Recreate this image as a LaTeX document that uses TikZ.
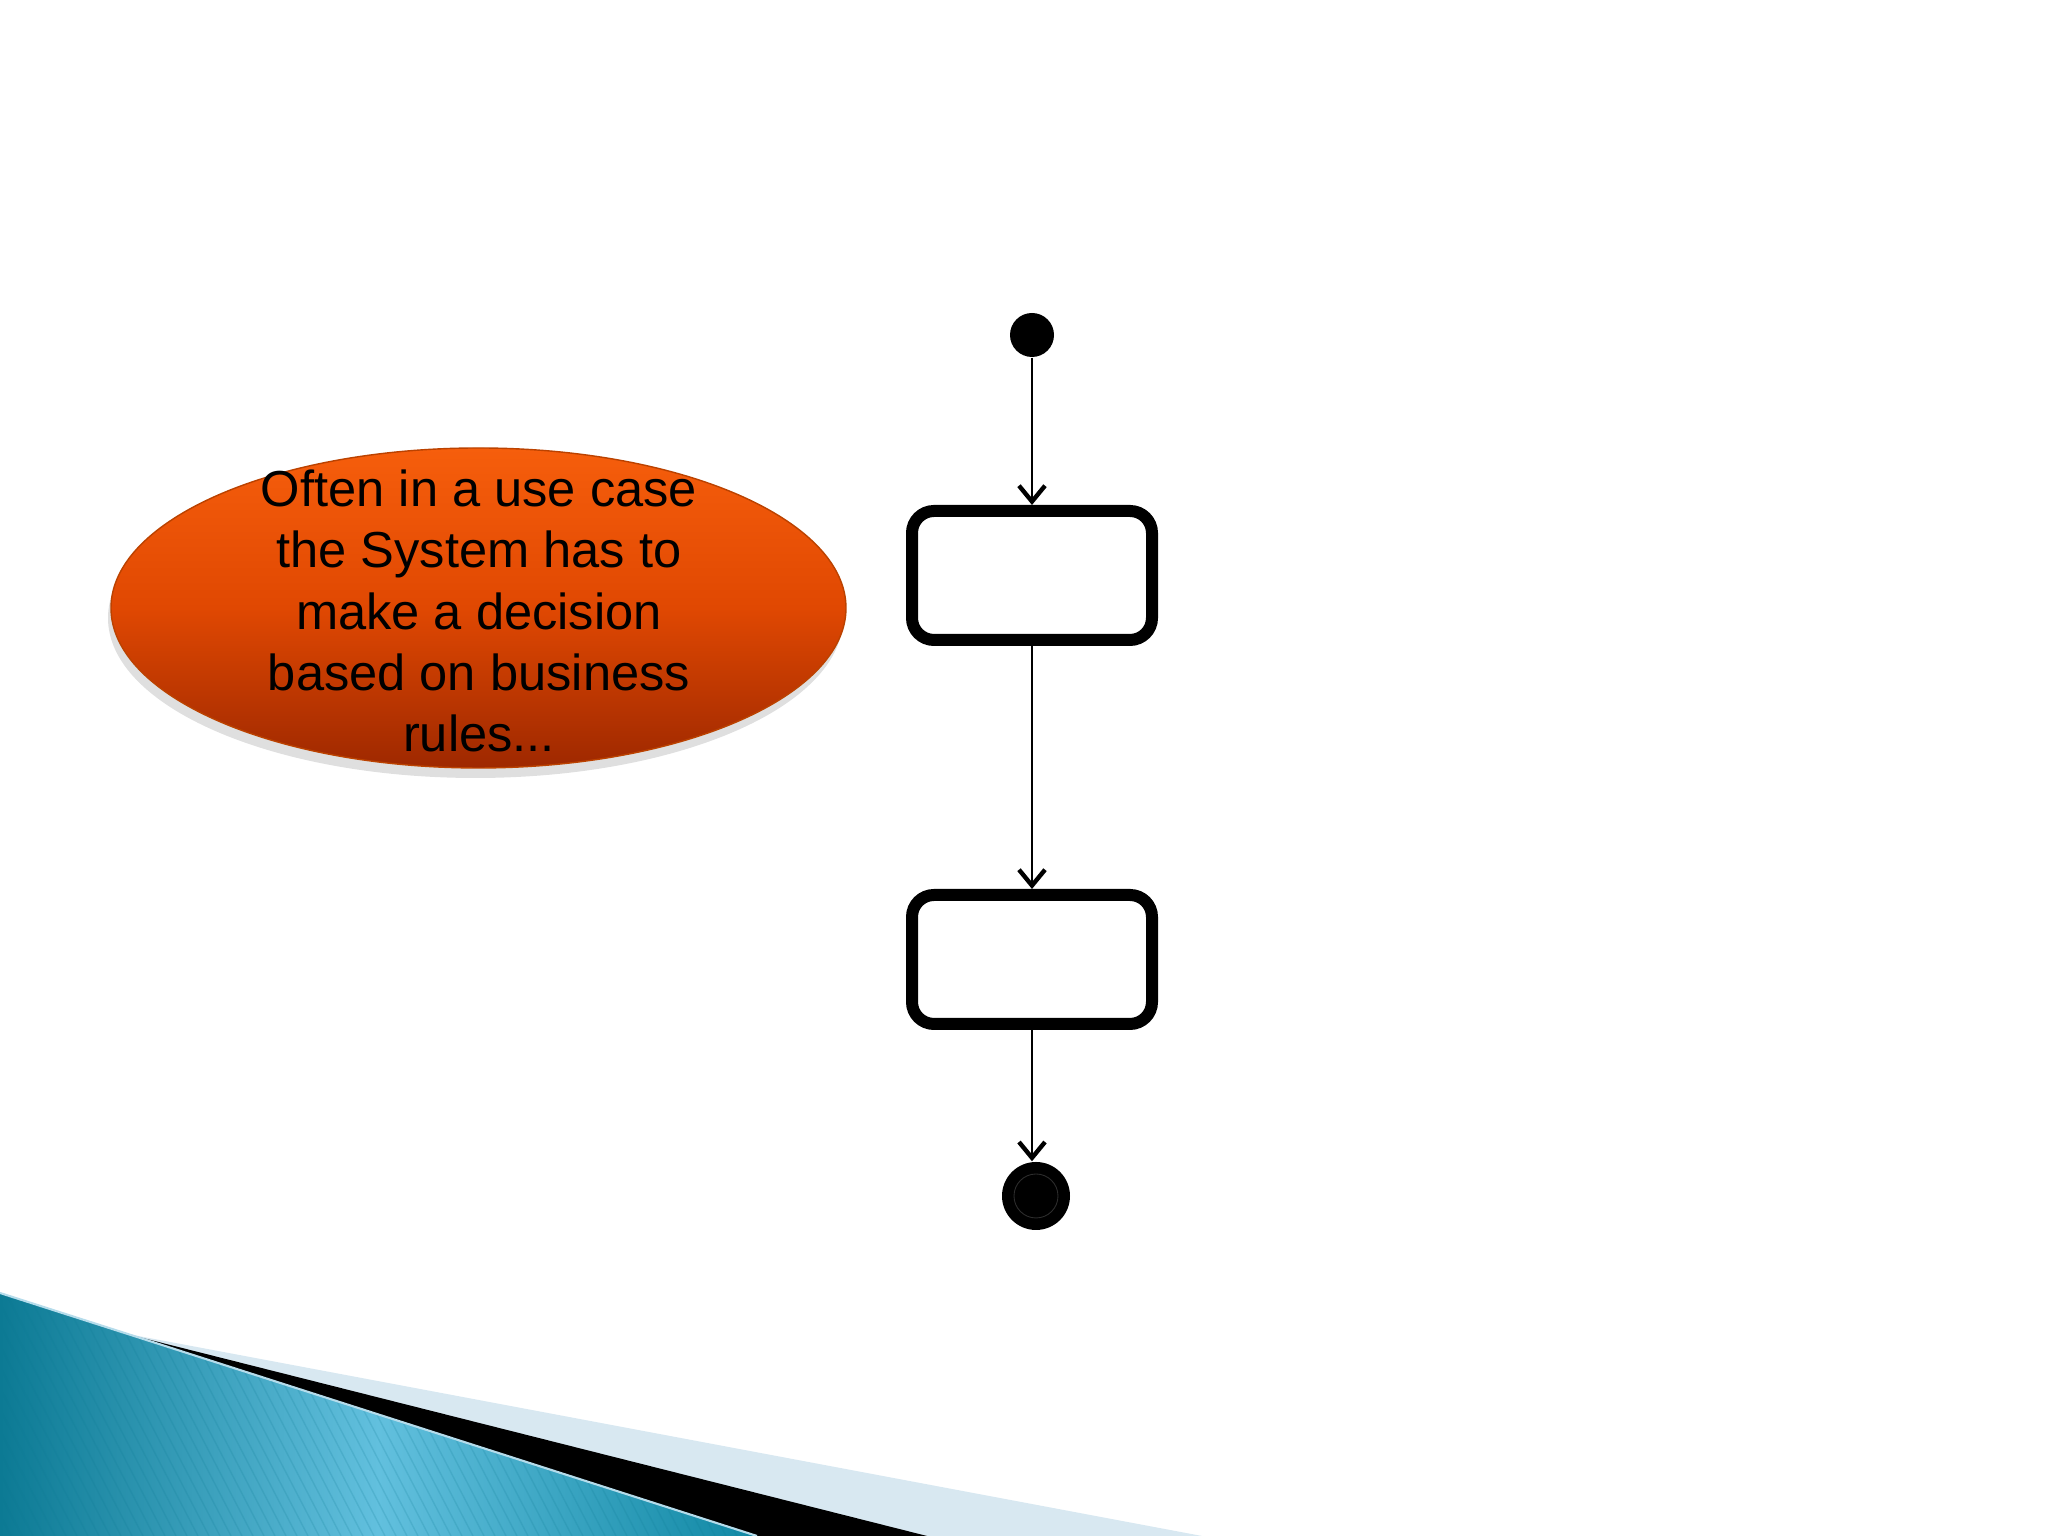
\documentclass[tikz,border=0pt]{standalone}
\usepackage{fontspec}
\setmainfont{Liberation Sans}
\usepackage{tikz}
\usetikzlibrary{positioning}
\usetikzlibrary{shapes.geometric}
\usetikzlibrary{shadows}
\usetikzlibrary{arrows.meta}

\definecolor{tealdark}{RGB}{12,122,148}
\definecolor{teallight}{RGB}{98,192,222}
\definecolor{tealmid}{RGB}{16,136,164}
\definecolor{paleblue}{RGB}{216,232,241}
\definecolor{orangetop}{RGB}{246,94,12}
\definecolor{orangemid}{RGB}{224,72,2}
\definecolor{orangebot}{RGB}{158,40,0}

\begin{document}
\begin{tikzpicture}[
	actbox/.style={rectangle, draw, line width=0.12cm, rounded corners=0.22cm, minimum width=2.40cm, minimum height=1.29cm, fill=white},
	initdot/.style={circle, fill=black, inner sep=0pt, minimum size=0.44cm},
	finaldot/.style={circle, fill=black, inner sep=0pt, minimum size=0.68cm},
	flow/.style={line width=0.65pt, -{Straight Barb[length=4.5pt,width=7.4pt,line width=1.25pt]}},
	note/.style={ellipse, inner sep=0pt, minimum width=7.35cm, minimum height=3.20cm, top color=orangetop, bottom color=orangebot, middle color=orangemid, draw=orangebot!70!orange, thin, drop shadow={opacity=0.25, shadow xshift=-0.03cm, shadow yshift=-0.1cm}}
	]
				\useasboundingbox (0,0) rectangle (20.48,15.36);
				
				% bottom decoration
				\fill[paleblue] (0,2.26) -- (12.02,0) -- (0,0) -- cycle;
				\fill[black] (0,2.34) -- (9.27,0) -- (0,0) -- cycle;
				\shade[left color=tealdark, right color=tealmid, middle color=teallight] (0,2.43) -- (7.57,0) -- (0,0) -- cycle;
				\begin{scope}
					\clip (0,2.43) -- (7.57,0) -- (0,0) -- cycle;
					\foreach \i in {0,0.11,...,9.5}
						\draw[tealdark, opacity=0.18, line width=0.4pt] (\i-1.3,2.5) -- (\i,0);
				\end{scope}
				\draw[paleblue!70!teallight, line width=0.6pt] (0,2.43) -- (7.57,0);
				
				% note
				\node[note] (4) at (4.785,9.28) {};
				\node[align=center, font=\fontsize{14.4}{17.4}\selectfont] (5) at (4.79,9.25) {Often in a use case\\the System has to\\make a decision\\based on business\\rules...};
				
				% activity flow
				\node[initdot] (0) at (10.32,12.01) {};
				\node[actbox] (1) at (10.32,9.605) {};
				\node[actbox] (2) at (10.32,5.765) {};
				\node[finaldot] (3) at (10.36,3.40) {};
				\draw[gray!35!black, line width=0.25pt] (3) circle (0.22cm);
				
				\draw[flow] (0) -- (1);
				\draw[flow] (1) -- (2);
				\draw[flow] (2) -- (2 |- 3.north);
			\end{tikzpicture}
\end{document}
